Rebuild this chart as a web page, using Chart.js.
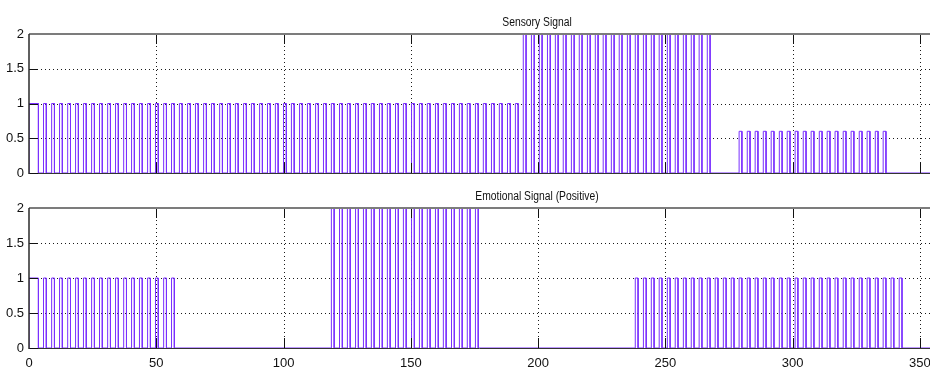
<!DOCTYPE html>
<html>
<head>
<meta charset="utf-8">
<script src="https://cdn.jsdelivr.net/npm/chart.js@4/dist/chart.umd.min.js"></script>
<style>
  html, body { margin: 0; padding: 0; background: #ffffff; }
  #wrap { position: relative; width: 930px; height: 372px; overflow: hidden; }
  #wrap canvas { position: absolute; left: 0; }
  #sensory { top: 0; }
  #emotional { top: 186px; }
</style>
</head>
<body>
<div id="wrap">
  <canvas id="sensory" width="930" height="186"></canvas>
  <canvas id="emotional" width="930" height="186"></canvas>
</div>
<script>
// ---- signal data: pulse rise / fall times and burst levels ----
const xTicks = [0, 50, 100, 150, 200, 250, 300, 350];
const yTicks = [0, 0.5, 1, 1.5, 2];
const titles = ['Sensory Signal', 'Emotional Signal (Positive)'];

const sensoryRise = [
  0, 5.7, 8.9, 12.0, 15.2, 18.3, 21.4, 24.6, 27.7, 30.9, 34.0, 37.2, 40.3, 43.4, 46.6, 49.7,
  52.9, 56.0, 59.1, 62.3, 65.4, 68.6, 71.7, 74.9, 78.0, 81.1, 84.3, 87.4, 90.6, 93.7, 96.8,
  100.0, 103.1, 106.3, 109.4, 112.6, 115.7, 118.8, 122.0, 125.1, 128.3, 131.4, 134.5, 137.7,
  140.8, 144.0, 147.1, 150.3, 153.4, 156.5, 159.7, 162.8, 166.0, 169.1, 172.2, 175.4, 178.5,
  181.7, 184.8, 188.0, 191.1,
  194.2, 197.4, 200.5, 203.7, 206.8, 209.9, 213.1, 216.2, 219.4, 222.5, 225.6, 228.8, 231.9,
  235.1, 238.2, 241.4, 244.5, 247.6, 250.8, 253.9, 257.1, 260.2, 263.3, 266.5,
  279.0, 282.2, 285.3, 288.5, 291.6, 294.8, 297.9, 301.0, 304.2, 307.3, 310.5, 313.6, 316.7,
  319.9, 323.0, 326.2, 329.3, 332.5, 335.6
];
const sensoryFall = [
  3.7, 6.8, 10.0, 13.1, 16.3, 19.4, 22.5, 25.7, 28.8, 32.0, 35.1, 38.3, 41.4, 44.5, 47.7, 50.8,
  54.0, 57.1, 60.2, 63.4, 66.5, 69.7, 72.8, 76.0, 79.1, 82.2, 85.4, 88.5, 91.7, 94.8, 97.9,
  101.1, 104.2, 107.4, 110.5, 113.7, 116.8, 119.9, 123.1, 126.2, 129.4, 132.5, 135.6, 138.8,
  141.9, 145.1, 148.2, 151.4, 154.5, 157.6, 160.8, 163.9, 167.1, 170.2, 173.3, 176.5, 179.6,
  182.8, 185.9, 189.1, 192.2,
  195.3, 198.5, 201.6, 204.8, 207.9, 211.0, 214.2, 217.3, 220.5, 223.6, 226.7, 229.9, 233.0,
  236.2, 239.3, 242.5, 245.6, 248.7, 251.9, 255.0, 258.2, 261.3, 264.4, 267.6,
  280.1, 283.3, 286.4, 289.6, 292.7, 295.9, 299.0, 302.1, 305.3, 308.4, 311.6, 314.7, 317.8,
  321.0, 324.1, 327.3, 330.4, 333.6, 336.7
];
const sensoryBurstLevels = [1, 2, 0.6];
const sensoryBurstSizes = [61, 24, 19];

const emotionalRise = [
  0, 5.7, 8.9, 12.0, 15.2, 18.3, 21.4, 24.6, 27.7, 30.9, 34.0, 37.2, 40.3, 43.4, 46.6, 49.7,
  52.9, 56.0,
  118.8, 122.0, 125.1, 128.3, 131.4, 134.5, 137.7, 140.8, 144.0, 147.1, 150.3, 153.4, 156.5,
  159.7, 162.8, 166.0, 169.1, 172.2, 175.4,
  238.2, 241.4, 244.5, 247.6, 250.8, 253.9, 257.1, 260.2, 263.3, 266.5, 269.6, 272.8, 275.9,
  279.0, 282.2, 285.3, 288.5, 291.6, 294.8, 297.9, 301.0, 304.2, 307.3, 310.5, 313.6, 316.7,
  319.9, 323.0, 326.2, 329.3, 332.5, 335.6, 338.7, 341.9
];
const emotionalFall = [
  3.7, 6.8, 10.0, 13.1, 16.3, 19.4, 22.5, 25.7, 28.8, 32.0, 35.1, 38.3, 41.4, 44.5, 47.7, 50.8,
  54.0, 57.1,
  119.9, 123.1, 126.2, 129.4, 132.5, 135.6, 138.8, 141.9, 145.1, 148.2, 151.4, 154.5, 157.6,
  160.8, 163.9, 167.1, 170.2, 173.3, 176.5,
  239.3, 242.5, 245.6, 248.7, 251.9, 255.0, 258.2, 261.3, 264.4, 267.6, 270.7, 273.9, 277.0,
  280.1, 283.3, 286.4, 289.6, 292.7, 295.9, 299.0, 302.1, 305.3, 308.4, 311.6, 314.7, 317.8,
  321.0, 324.1, 327.3, 330.4, 333.6, 336.7, 339.8, 343.0
];
const emotionalBurstLevels = [1, 2, 1];
const emotionalBurstSizes = [18, 19, 34];

const X_MIN = 0, X_MAX = 354;

// ---- build a rectangular pulse trace from rise/fall times ----
function pulseTrace(rise, fall, levels, sizes) {
  const pts = [];
  let idx = 0;
  levels.forEach((lvl, b) => {
    for (let i = 0; i < sizes[b]; i++, idx++) {
      pts.push({ x: rise[idx], y: 0 }, { x: rise[idx], y: lvl },
               { x: fall[idx], y: lvl }, { x: fall[idx], y: 0 });
    }
  });
  pts.push({ x: X_MAX, y: 0 });
  return pts;
}

const FONT = "'Liberation Sans', Arial, sans-serif";
const LINE = '#7a30ff';

// axes box, dotted grid, inward tick marks and the panel title
const axesDecor = {
  id: 'axesDecor',
  beforeDatasetsDraw(chart) {
    const { ctx, chartArea: a, scales } = chart;
    const xs = scales.x, ys = scales.y;
    ctx.save();
    ctx.lineWidth = 1;
    ctx.strokeStyle = '#1a1a1a';
    ctx.setLineDash([1, 3]);
    xTicks.forEach(v => {
      if (v === X_MIN) return;
      const px = Math.round(xs.getPixelForValue(v)) + 0.5;
      ctx.beginPath(); ctx.moveTo(px, a.top); ctx.lineTo(px, a.bottom); ctx.stroke();
    });
    yTicks.forEach(v => {
      if (v === 0 || v === 2) return;
      const py = Math.round(ys.getPixelForValue(v)) + 0.5;
      ctx.beginPath(); ctx.moveTo(a.left, py); ctx.lineTo(a.right, py); ctx.stroke();
    });
    ctx.setLineDash([]);
    // bottom edge of the box (under the trace)
    ctx.strokeStyle = '#333333';
    ctx.beginPath(); ctx.moveTo(a.left, a.bottom + 0.5); ctx.lineTo(a.right, a.bottom + 0.5); ctx.stroke();
    ctx.restore();
  },
  afterDatasetsDraw(chart, args, opts) {
    const { ctx, chartArea: a, scales } = chart;
    const xs = scales.x, ys = scales.y;
    const TL = 10;
    ctx.save();
    ctx.strokeStyle = '#111111';
    ctx.lineWidth = 1;
    xTicks.forEach(v => {
      if (v === X_MIN) return;
      const px = Math.round(xs.getPixelForValue(v)) + 0.5;
      ctx.beginPath();
      ctx.moveTo(px, a.bottom); ctx.lineTo(px, a.bottom - TL);
      ctx.moveTo(px, a.top); ctx.lineTo(px, a.top + TL);
      ctx.stroke();
    });
    yTicks.forEach(v => {
      const py = Math.round(ys.getPixelForValue(v)) + 0.5;
      ctx.beginPath(); ctx.moveTo(a.left, py); ctx.lineTo(a.left + TL - 1, py); ctx.stroke();
    });
    // top edge (grey) and left edge
    ctx.strokeStyle = '#7c7c7c';
    ctx.lineWidth = 2;
    ctx.beginPath(); ctx.moveTo(a.left, a.top); ctx.lineTo(a.right, a.top); ctx.stroke();
    ctx.strokeStyle = '#2a2a2a';
    ctx.lineWidth = 1.5;
    ctx.beginPath(); ctx.moveTo(a.left, a.top); ctx.lineTo(a.left, a.bottom + 1); ctx.stroke();
    // title, set in a condensed face
    ctx.fillStyle = '#111111';
    ctx.font = '12px ' + FONT;
    ctx.textAlign = 'center';
    ctx.textBaseline = 'alphabetic';
    ctx.translate(537, a.top - 8.5);
    ctx.scale(0.86, 1);
    ctx.fillText(opts.text, 0, 0);
    ctx.restore();
  }
};

function makeChart(canvasId, data, title, showXLabels, padTop, xAxisHeight) {
  return new Chart(document.getElementById(canvasId), {
    type: 'line',
    data: {
      datasets: [{
        data: data,
        borderColor: LINE,
        borderWidth: 1,
        pointRadius: 0,
        pointHoverRadius: 0,
        tension: 0,
        fill: false
      }]
    },
    options: {
      responsive: false,
      animation: false,
      devicePixelRatio: 1,
      parsing: false,
      normalized: true,
      events: [],
      layout: { autoPadding: false, padding: { top: padTop, left: 0, right: 0, bottom: 0 } },
      plugins: {
        legend: { display: false },
        tooltip: { enabled: false },
        title: { display: false },
        axesDecor: { text: title }
      },
      scales: {
        x: {
          type: 'linear',
          min: X_MIN,
          max: X_MAX,
          grid: { display: false, drawTicks: false },
          border: { display: false },
          afterBuildTicks: s => { s.ticks = xTicks.map(v => ({ value: v })); },
          ticks: {
            display: showXLabels,
            includeBounds: false,
            maxRotation: 0,
            autoSkip: false,
            padding: 8,
            color: '#111111',
            font: { family: FONT, size: 13 },
            callback: v => String(v)
          },
          afterFit: s => { s.height = xAxisHeight; s.paddingLeft = 0; s.paddingRight = 0; }
        },
        y: {
          min: 0,
          max: 2,
          grid: { display: false, drawTicks: false },
          border: { display: false },
          afterBuildTicks: s => { s.ticks = yTicks.map(v => ({ value: v })); },
          ticks: {
            padding: 5,
            color: '#111111',
            font: { family: FONT, size: 13 },
            callback: v => String(v)
          },
          afterFit: s => { s.width = 29; s.paddingTop = 0; s.paddingBottom = 0; }
        }
      }
    },
    plugins: [axesDecor]
  });
}

makeChart('sensory',
  pulseTrace(sensoryRise, sensoryFall, sensoryBurstLevels, sensoryBurstSizes),
  titles[0], false, 34, 13);
makeChart('emotional',
  pulseTrace(emotionalRise, emotionalFall, emotionalBurstLevels, emotionalBurstSizes),
  titles[1], true, 22, 24);
</script>
</body>
</html>
